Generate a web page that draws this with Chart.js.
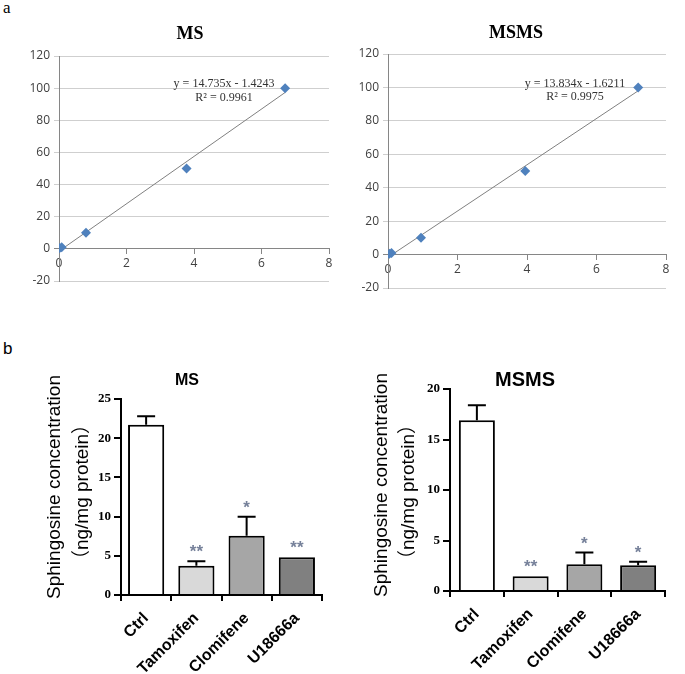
<!DOCTYPE html>
<html>
<head>
<meta charset="utf-8">
<script src="https://cdn.jsdelivr.net/npm/chart.js@4/dist/chart.umd.min.js"></script>
<style>
  body { margin: 0; background: #fff; width: 685px; height: 674px; position: relative; overflow: hidden; }
  canvas { position: absolute; }
  .tag { position: absolute; font-size: 17px; color: #000; line-height: 1; }
</style>
</head>
<body>
<div class="tag" style="left:3px;top:-1px;font-family:'Liberation Serif'">a</div>
<div class="tag" style="left:3px;top:340px;font-family:'Liberation Sans'">b</div>
<canvas id="msCurve" width="340" height="300" style="left:0;top:0"></canvas>
<canvas id="msmsCurve" width="345" height="300" style="left:340px;top:0"></canvas>
<canvas id="msBars" width="340" height="344" style="left:0;top:330px"></canvas>
<canvas id="msmsBars" width="345" height="344" style="left:340px;top:330px"></canvas>
<script>
// standard curves (a)
const msCurveX = [0.02, 0.08, 0.8, 3.78, 6.7];
const msCurveY = [0.5, 1, 10, 50, 100];
const msmsCurveX = [0.04, 0.1, 0.95, 3.95, 7.2];
const msmsCurveY = [0.5, 1, 10, 50, 100];
const msSlope = 14.735, msIntercept = -1.4243, msR2 = "0.9961";
const msmsSlope = 13.834, msmsIntercept = -1.6211, msmsR2 = "0.9975";

// sphingosine concentration (b)
const groups = ["Ctrl", "Tamoxifen", "Clomifene", "U18666a"];
const msMean = [21.7, 3.74, 7.56, 4.81];
const msSem = [1.1, 0.55, 2.43, 0];
const msStars = ["", "**", "*", "**"];
const msmsMean = [16.9, 1.47, 2.65, 2.55];
const msmsSem = [1.5, 0, 1.15, 0.35];
const msmsStars = ["", "**", "*", "*"];
const barColors = ["#ffffff", "#d9d9d9", "#a6a6a6", "#808080"];
const yTitle = ["Sphingosine concentration", "（ng/mg protein）"];

// draws loose text (titles, equations, rotated axis titles)
function textPlugin(items) {
  return {
    id: "texts",
    afterDraw(chart) {
      const ctx = chart.ctx;
      items.forEach(t => {
        ctx.save();
        ctx.font = t.font;
        ctx.fillStyle = t.color || "#000";
        ctx.textAlign = "center";
        ctx.textBaseline = "middle";
        ctx.translate(t.x, t.y);
        if (t.rot) ctx.rotate(t.rot);
        ctx.fillText(t.text, 0, 0);
        ctx.restore();
      });
    }
  };
}

// SEM caps and significance stars
const errorBars = {
  id: "errorBars",
  afterDatasetsDraw(chart, args, opts) {
    const { ctx, scales: { x, y } } = chart;
    ctx.save();
    opts.mean.forEach((m, i) => {
      const cx = x.getPixelForValue(i);
      const base = y.getPixelForValue(m);
      const top = y.getPixelForValue(m + opts.sem[i]);
      if (opts.sem[i] > 0) {
        ctx.beginPath();
        ctx.moveTo(cx, base);
        ctx.lineTo(cx, top);
        ctx.moveTo(cx - 9, top);
        ctx.lineTo(cx + 9, top);
        ctx.lineWidth = 2;
        ctx.strokeStyle = "#000";
        ctx.stroke();
      }
      if (opts.stars[i]) {
        ctx.font = "bold 17px 'Liberation Sans'";
        ctx.fillStyle = "#76819a";
        ctx.textAlign = "center";
        ctx.textBaseline = "alphabetic";
        ctx.fillText(opts.stars[i], cx, top - 4);
      }
    });
    ctx.restore();
  }
};

function curveChart(id, xs, ys, slope, intercept, texts, box) {
  const points = xs.map((x, i) => ({ x: x, y: ys[i] }));
  const x0 = Math.min(...xs), x1 = Math.max(...xs);
  const trend = [
    { x: x0, y: slope * x0 + intercept },
    { x: x1, y: slope * x1 + intercept }
  ];
  const tickFont = { family: "'Open Sans'", size: 12 };
  new Chart(document.getElementById(id), {
    type: "scatter",
    data: {
      datasets: [
        { data: points, pointStyle: "rectRot", pointRadius: 5, backgroundColor: "#4f81bd", borderColor: "#4f81bd", borderWidth: 0 },
        { data: trend, showLine: true, borderColor: "#808080", borderWidth: 1, pointRadius: 0 }
      ]
    },
    options: {
      responsive: false,
      animation: false,
      layout: { padding: { left: 0, top: box.top, right: box.right, bottom: box.bottom } },
      plugins: { legend: { display: false }, tooltip: { enabled: false } },
      scales: {
        x: {
          type: "linear", min: 0, max: 8, position: { y: 0 },
          ticks: { stepSize: 2, color: "#404040", font: tickFont, padding: 3 },
          grid: { drawOnChartArea: false, drawTicks: true, tickLength: 5, color: "#868686" },
          border: { color: "#868686" }
        },
        y: {
          min: -20, max: 120,
          ticks: { stepSize: 20, color: "#404040", font: tickFont, padding: 4 },
          grid: { color: c => (c.tick && c.tick.value === 0 ? "#868686" : "#cfcfcf"), tickLength: 5 },
          border: { color: "#868686" },
          afterFit: s => { s.width = box.yw; }
        }
      }
    },
    plugins: [textPlugin(texts)]
  });
}

function barChart(id, mean, sem, stars, texts, box) {
  new Chart(document.getElementById(id), {
    type: "bar",
    data: {
      labels: groups,
      datasets: [{
        data: mean,
        backgroundColor: barColors,
        borderColor: "#000",
        borderWidth: 2,
        barPercentage: 1,
        categoryPercentage: box.cat
      }]
    },
    options: {
      responsive: false,
      animation: false,
      layout: { padding: { left: 0, top: box.top, right: box.right, bottom: 0 } },
      plugins: {
        legend: { display: false },
        tooltip: { enabled: false },
        errorBars: { mean: mean, sem: sem, stars: stars }
      },
      scales: {
        x: {
          grid: { drawOnChartArea: false, drawTicks: true, tickLength: 6, color: "#000", lineWidth: 2 },
          border: { color: "#000", width: 2 },
          ticks: { color: "#000", font: { family: "'Liberation Sans'", weight: "bold", size: 16 }, minRotation: 45, maxRotation: 45, padding: 8 },
          afterFit: s => { s.height = box.xh; }
        },
        y: {
          min: 0, max: box.ymax,
          ticks: { stepSize: 5, color: "#000", font: { family: "'Liberation Serif'", weight: "bold", size: 13 }, padding: 3 },
          grid: { drawOnChartArea: false, drawTicks: true, tickLength: 7, color: "#000", lineWidth: 2 },
          border: { color: "#000", width: 2 },
          afterFit: s => { s.width = box.yw; }
        }
      }
    },
    plugins: [errorBars, textPlugin(texts)]
  });
}

const titleFont = "19px 'Liberation Sans', 'Noto Sans CJK SC'";

curveChart("msCurve", msCurveX, msCurveY, msSlope, msIntercept, [
  { text: "MS", x: 190, y: 34, font: "bold 18px 'Liberation Serif'" },
  { text: "y = " + msSlope + "x - " + Math.abs(msIntercept), x: 224, y: 84, font: "12px 'Liberation Serif'", color: "#333" },
  { text: "R² = " + msR2, x: 224, y: 98, font: "12px 'Liberation Serif'", color: "#333" }
], { top: 56, right: 11, bottom: 19, yw: 59 });

curveChart("msmsCurve", msmsCurveX, msmsCurveY, msmsSlope, msmsIntercept, [
  { text: "MSMS", x: 176, y: 33, font: "bold 18px 'Liberation Serif'" },
  { text: "y = " + msmsSlope + "x - " + Math.abs(msmsIntercept), x: 235, y: 84, font: "12px 'Liberation Serif'", color: "#333" },
  { text: "R² = " + msmsR2, x: 235, y: 97, font: "12px 'Liberation Serif'", color: "#333" }
], { top: 54, right: 19, bottom: 12, yw: 48 });

barChart("msBars", msMean, msSem, msStars, [
  { text: "MS", x: 187, y: 51, font: "bold 16px 'Liberation Sans'" },
  { text: yTitle[0], x: 55, y: 157, rot: -Math.PI / 2, font: titleFont },
  { text: yTitle[1], x: 83, y: 162, rot: -Math.PI / 2, font: titleFont }
], { top: 69, right: 18, yw: 121, xh: 79, ymax: 25, cat: 0.72 });

barChart("msmsBars", msmsMean, msmsSem, msmsStars, [
  { text: "MSMS", x: 185, y: 50, font: "bold 20px 'Liberation Sans'" },
  { text: yTitle[0], x: 42, y: 155, rot: -Math.PI / 2, font: titleFont },
  { text: yTitle[1], x: 69, y: 162, rot: -Math.PI / 2, font: titleFont }
], { top: 59, right: 20, yw: 110, xh: 83, ymax: 20, cat: 0.67 });
</script>
</body>
</html>
